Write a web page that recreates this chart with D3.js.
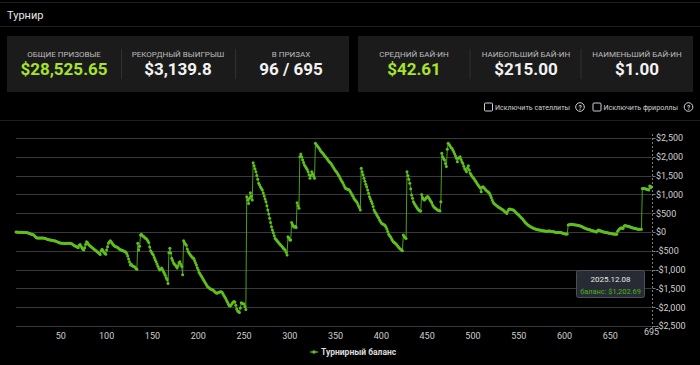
<!DOCTYPE html>
<html>
<head>
<meta charset="utf-8">
<script src="https://cdn.jsdelivr.net/npm/d3@7"></script>
<style>
  body { margin: 0; background: #000; }
  svg { display: block; font-family: Roboto, "Noto Sans", sans-serif; }
</style>
</head>
<body>
<div id="chart-area"><svg></svg></div>
<script>
// Header stats
const statLabelsLeft = ['ОБЩИЕ ПРИЗОВЫЕ', 'РЕКОРДНЫЙ ВЫИГРЫШ', 'В ПРИЗАХ'];
const statValuesLeft = ['$28,525.65', '$3,139.8', '96 / 695'];
const statLabelsRight = ['СРЕДНИЙ БАЙ-ИН', 'НАИБОЛЬШИЙ БАЙ-ИН', 'НАИМЕНЬШИЙ БАЙ-ИН'];
const statValuesRight = ['$42.61', '$215.00', '$1.00'];
const checkLabels = ['Исключить сателлиты', 'Исключить фрироллы'];

// Axis ticks
const xTicks = [50, 100, 150, 200, 250, 300, 350, 400, 450, 500, 550, 600, 650, 695];
const yTicks = [2500, 2000, 1500, 1000, 500, 0, -500, -1000, -1500, -2000, -2500];

// Tournament balance, one value per tournament (1..695)
const balance = [
  0, -2, -4, -5, -6, -8, -8, -9, -10, -12,
  -13, -15, -18, -20, -30, -40, -50, -60, -65, -75,
  -95, -120, -145, -160, -160, -158, -160, -162, -160, -158,
  -160, -165, -170, -180, -190, -200, -205, -210, -215, -220,
  -225, -230, -235, -240, -250, -260, -270, -280, -290, -295,
  -300, -300, -302, -305, -305, -300, -298, -300, -300, -302,
  -305, -310, -330, -350, -365, -380, -390, -400, -420, -350,
  -330, -380, -420, -460, -480, -420, -330, -260, -280, -320,
  -350, -370, -390, -410, -430, -450, -470, -490, -510, -530,
  -550, -570, -600, -500, -460, -500, -540, -570, -590, -480,
  -390, -300, -260, -230, -260, -300, -330, -360, -380, -390,
  -400, -410, -430, -460, -470, -480, -490, -500, -510, -520,
  -540, -580, -640, -720, -800, -880, -860, -900, -910, -920,
  -940, -970, -990, -300, -480, -380, -80, -60, -100, -110,
  -130, -160, -170, -200, -240, -280, -400, -500, -540, -580,
  -610, -680, -740, -790, -850, -910, -970, -1010, -990, -960,
  -1000, -1050, -1100, -1150, -1220, -1260, -1370, -550, -435, -560,
  -700, -760, -820, -860, -880, -920, -960, -900, -820, -790,
  -860, -920, -1140, -230, -280, -320, -350, -450, -520, -560,
  -600, -630, -660, -690, -700, -760, -820, -880, -950, -1010,
  -1080, -1120, -1160, -1200, -1240, -1280, -1320, -1360, -1400, -1440,
  -1470, -1490, -1510, -1520, -1530, -1540, -1560, -1590, -1610, -1630,
  -1620, -1610, -1600, -1590, -1590, -1600, -1640, -1690, -1730, -1770,
  -1820, -1870, -1920, -1960, -1970, -1940, -1900, -1870, -1850, -1860,
  -1950, -2050, -2100, -2120, -2140, -2020, -1880, -1900, -1910, -1915,
  -1980, -2060, 940, 850, 760, 900, 1045, 950, 850, 1840,
  1760, 1680, 1600, 1500, 1400, 1295, 1250, 1200, 1160, 1120,
  1040, 960, 880, 805, 700, 585, 480, 365, 250, 140,
  50, -20, -100, -170, -200, -230, -260, -290, -320, -345,
  -370, -400, -430, -460, -480, -540, -610, -125, -160, -210,
  -210, 250, 200, 150, 125, 150, 120, 780, 700, 630,
  2000, 2075, 2000, 1920, 1850, 1780, 1740, 1700, 1660, 1600,
  1520, 1430, 1500, 1600, 1550, 1480, 1430, 2360, 2330, 2290,
  2260, 2225, 2190, 2150, 2120, 2095, 2060, 2030, 2000, 1970,
  1940, 1900, 1870, 1850, 1820, 1780, 1740, 1700, 1660, 1620,
  1600, 1560, 1520, 1480, 1430, 1385, 1340, 1300, 1250, 1200,
  1160, 1150, 1140, 1130, 1120, 1080, 1040, 990, 950, 900,
  860, 830, 805, 760, 700, 650, 585, 1695, 1600, 1520,
  1430, 1350, 1270, 1205, 1120, 1030, 940, 880, 820, 760,
  680, 585, 540, 500, 450, 410, 370, 320, 280, 240,
  220, 205, 190, 170, 130, 80, 10, -60, -100, -125,
  -170, -220, -260, -275, -300, -320, -345, -380, -410, -440,
  -460, -480, -500, -80, -120, -150, -170, 1600, 1500, 1400,
  1295, 1150, 985, 900, 805, 760, 720, 675, 640, 610,
  580, 560, 560, 1000, 920, 870, 850, 880, 910, 940,
  940, 900, 860, 820, 780, 720, 680, 650, 630, 610,
  590, 580, 570, 560, 805, 2095, 2000, 1950, 1915, 1820,
  1740, 2200, 2360, 2330, 2290, 2250, 2225, 2180, 2135, 2080,
  2020, 1960, 1870, 1960, 1980, 2000, 1930, 1870, 1825, 1750,
  1680, 1650, 1600, 1700, 1765, 1650, 1560, 1520, 1480, 1450,
  1420, 1385, 1350, 1310, 1270, 1240, 1205, 1170, 1070, 1190,
  1205, 1180, 1150, 1120, 1100, 1080, 1060, 1030, 980, 920,
  850, 800, 760, 740, 720, 700, 680, 660, 645, 630,
  610, 600, 585, 560, 540, 520, 495, 550, 600, 610,
  605, 600, 595, 585, 570, 545, 520, 495, 470, 450,
  425, 400, 375, 350, 320, 290, 260, 235, 210, 185,
  170, 155, 140, 125, 110, 100, 90, 80, 70, 65,
  60, 55, 50, 45, 40, 35, 30, 25, 25, 20,
  20, 25, 25, 25, 20, 15, 10, 5, 0, -5,
  -10, -10, -5, -10, -10, -15, -20, -30, -40, -45,
  -50, -55, -55, 185, 190, 200, 205, 205, 200, 195,
  190, 185, 185, 180, 175, 170, 160, 150, 140, 130,
  115, 105, 95, 85, 75, 70, 65, 55, 45, 35,
  30, 25, 15, 5, 0, 30, 55, 45, 35, 25,
  15, 5, 0, -5, -10, -15, -20, -25, -30, -35,
  -40, -45, -50, -55, -55, -60, -60, 20, 55, 80,
  100, 115, 100, 90, 150, 170, 165, 160, 155, 150,
  140, 130, 120, 110, 105, 100, 95, 90, 80, 75,
  70, 70, 70, 70, 1160, 1160, 1155, 1150, 1145, 1140,
  1130, 1120, 1225, 1180, 1202.69
];
const tipDate = '2025.12.08';

const width = 700, height = 365;
const svg = d3.select('#chart-area').select('svg')
  .attr('width', width).attr('height', height);

const lime = '#a6e22e';
const lineGreen = '#4a9e1a';
const dotGreen = '#5fbf1f';

// ---------- header ----------
svg.append('line').attr('x1', 0).attr('x2', width).attr('y1', 2.5).attr('y2', 2.5)
  .attr('stroke', '#1e1e1e');
svg.append('text').attr('x', 7).attr('y', 19)
  .attr('fill', '#e6e6e6').attr('font-size', 11).text('Турнир');
svg.append('line').attr('x1', 0).attr('x2', width).attr('y1', 26.5).attr('y2', 26.5)
  .attr('stroke', '#1e1e1e');

// ---------- stat boxes ----------
function statBox(x0, x1, labels, values, centers, dividers) {
  const g = svg.append('g');
  g.append('rect').attr('x', x0).attr('y', 36).attr('width', x1 - x0).attr('height', 56)
    .attr('fill', '#1b1b1b');
  dividers.forEach(d => {
    g.append('line').attr('x1', d).attr('x2', d).attr('y1', 49).attr('y2', 79)
      .attr('stroke', '#303030');
  });
  labels.forEach((l, i) => {
    g.append('text').attr('x', centers[i]).attr('y', 57).attr('text-anchor', 'middle')
      .attr('fill', '#bdbdbd').attr('font-size', 8).text(l);
    g.append('text').attr('x', centers[i]).attr('y', 75).attr('text-anchor', 'middle')
      .attr('fill', i === 0 ? lime : '#f2f2f2').attr('font-size', 17)
      .attr('font-weight', 700).text(values[i]);
  });
}
statBox(7, 349, statLabelsLeft, statValuesLeft, [64, 178, 291], [121.5, 235.5]);
statBox(358, 693, statLabelsRight, statValuesRight, [414, 526, 637], [470, 581]);

// ---------- checkboxes ----------
const checkX = [484, 592.5];
checkLabels.forEach((l, i) => {
  const g = svg.append('g').attr('transform', `translate(${checkX[i]},102.5)`);
  g.append('rect').attr('x', 0.5).attr('y', 0.5).attr('width', 8).attr('height', 8)
    .attr('rx', 1).attr('fill', 'none').attr('stroke', '#cfcfcf');
  g.append('text').attr('x', 11).attr('y', 7.3).attr('fill', '#d0d0d0')
    .attr('font-size', 7.1).text(l);
  const q = g.append('g').attr('transform', `translate(96,4.5)`);
  q.append('circle').attr('r', 4.3).attr('fill', 'none').attr('stroke', '#d0d0d0');
  q.append('text').attr('y', 2.5).attr('text-anchor', 'middle').attr('fill', '#d0d0d0')
    .attr('font-size', 6.5).attr('font-weight', 700).text('?');
});

svg.append('line').attr('x1', 0).attr('x2', width).attr('y1', 120.5).attr('y2', 120.5)
  .attr('stroke', '#1e1e1e');

// ---------- chart ----------
const x = d3.scaleLinear().domain([1, 695]).range([16, 651.5]);
const y = d3.scaleLinear().domain([-2500, 2500]).range([326, 138]);
const money = v => (v < 0 ? '-$' : '$') + d3.format(',')(Math.abs(v));

const grid = svg.append('g');
grid.selectAll('line').data(yTicks).join('line')
  .attr('x1', x(1)).attr('x2', x(695))
  .attr('y1', d => Math.round(y(d)) + 0.5).attr('y2', d => Math.round(y(d)) + 0.5)
  .attr('stroke', '#3a3a3a');

// right axis
const ax = Math.round(x(695)) + 0.5;
svg.append('line').attr('x1', ax).attr('x2', ax).attr('y1', 134).attr('y2', 330)
  .attr('stroke', '#7a7a7a').attr('stroke-dasharray', '2,2');
const yAx = svg.append('g');
yAx.selectAll('line').data(yTicks).join('line')
  .attr('x1', ax).attr('x2', ax + 3)
  .attr('y1', d => Math.round(y(d)) + 0.5).attr('y2', d => Math.round(y(d)) + 0.5)
  .attr('stroke', '#7a7a7a');
yAx.selectAll('text').data(yTicks).join('text')
  .attr('x', 656).attr('y', d => y(d) + 3.3)
  .attr('fill', '#cfcfcf').attr('font-size', 9).text(money);

// bottom axis labels
svg.append('g').selectAll('text').data(xTicks).join('text')
  .attr('x', d => x(d)).attr('y', d => d === 695 ? 335 : 338.5)
  .attr('text-anchor', 'middle').attr('fill', '#cfcfcf').attr('font-size', 9)
  .text(d => d);

// series
const line = d3.line().x((d, i) => x(i + 1)).y(d => y(d));
svg.append('path').datum(balance).attr('d', line)
  .attr('fill', 'none').attr('stroke', lineGreen).attr('stroke-width', 1);
svg.append('g').selectAll('circle').data(balance).join('circle')
  .attr('cx', (d, i) => x(i + 1)).attr('cy', d => y(d)).attr('r', 1.5)
  .attr('fill', dotGreen);

// tooltip
const tip = svg.append('g').attr('transform', 'translate(576,270)');
tip.append('rect').attr('x', 0.5).attr('y', 0.5).attr('width', 68).attr('height', 27)
  .attr('rx', 2).attr('fill', '#272b33').attr('stroke', '#4a4f58');
tip.append('text').attr('x', 34.5).attr('y', 12).attr('text-anchor', 'middle')
  .attr('fill', '#e8e8e8').attr('font-size', 8).text(tipDate);
tip.append('text').attr('x', 34.5).attr('y', 23.5).attr('text-anchor', 'middle')
  .attr('fill', '#4fae1c').attr('font-size', 7.4)
  .text('баланс: ' + '$' + d3.format(',.2f')(balance[balance.length - 1]));

// legend
const lg = svg.append('g').attr('transform', 'translate(310,352)');
lg.append('line').attr('x1', 0).attr('x2', 8).attr('stroke', lineGreen).attr('stroke-width', 1.5);
lg.append('circle').attr('cx', 4).attr('r', 1.8).attr('fill', dotGreen);
lg.append('text').attr('x', 11).attr('y', 3).attr('fill', '#dcdcdc')
  .attr('font-size', 8.5).attr('font-weight', 700).text('Турнирный баланс');
</script>
</body>
</html>
